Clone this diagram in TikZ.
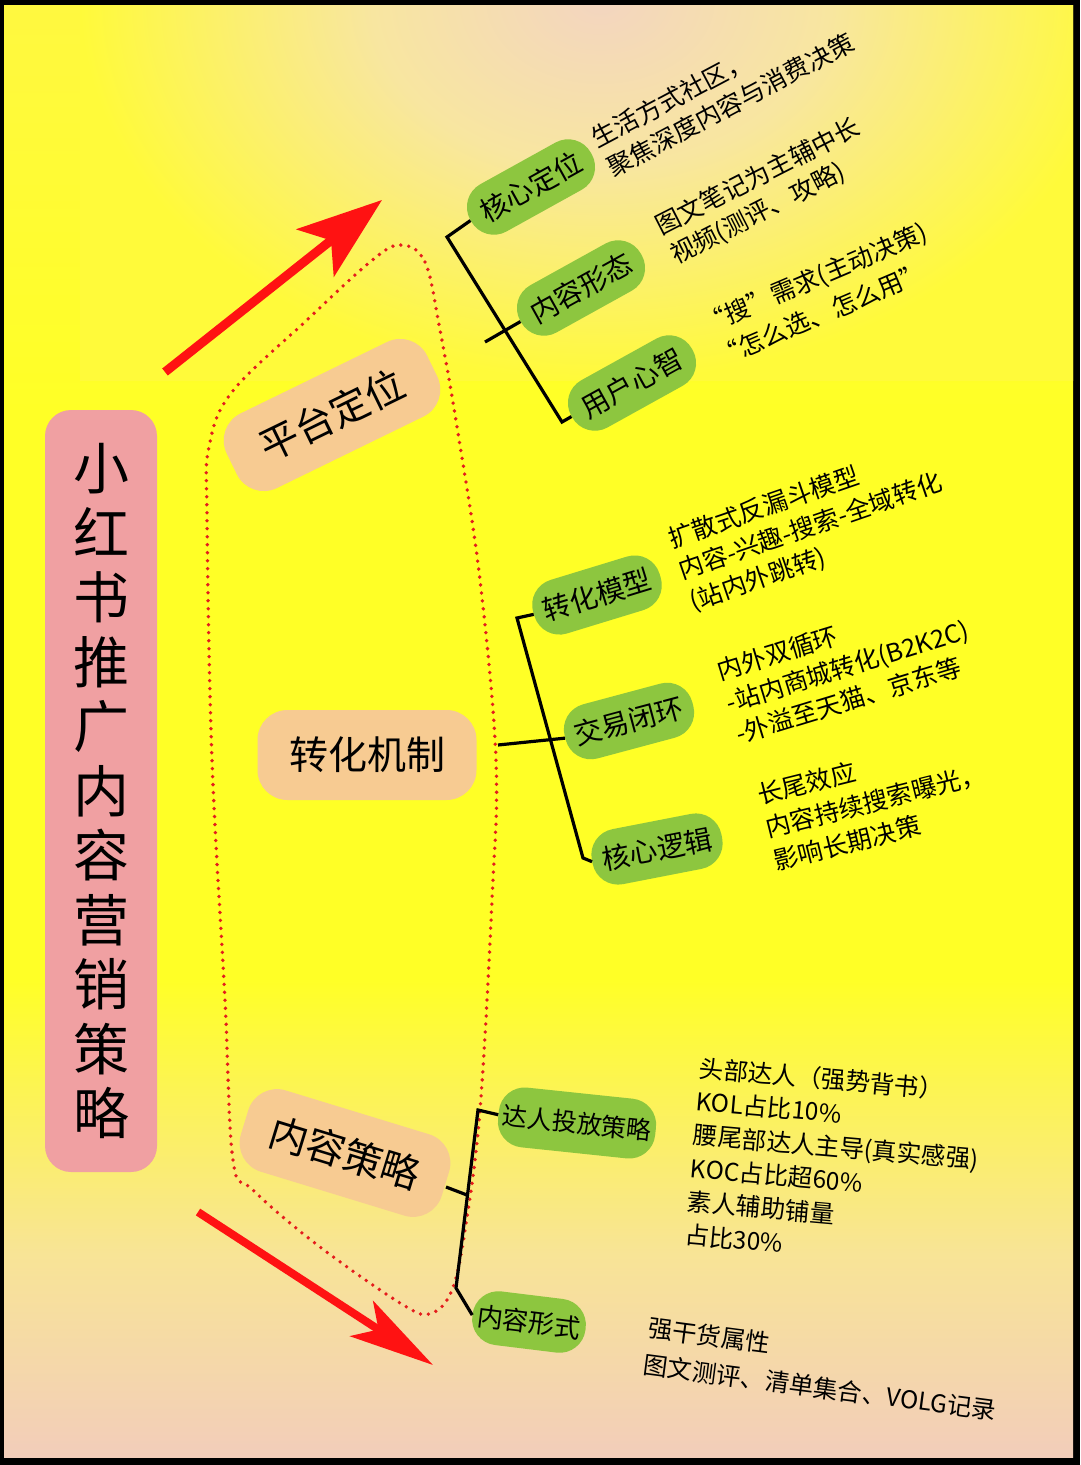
\documentclass[tikz,border=0pt]{standalone}
\usepackage{fontspec}
\setmainfont{Noto Sans CJK SC}
\usetikzlibrary{arrows.meta,calc}
\definecolor{bgpeach}{RGB}{242,205,186}
\definecolor{bgmid}{RGB}{248,228,150}
\definecolor{bgyel}{RGB}{255,255,38}
\definecolor{bgtop}{RGB}{255,248,64}
\definecolor{blobin}{RGB}{243,213,192}
\definecolor{blobmid}{RGB}{248,230,160}
\definecolor{blobout}{RGB}{255,250,58}
\definecolor{titlepink}{RGB}{240,160,162}
\definecolor{orng}{RGB}{247,203,146}
\definecolor{pillgreen}{RGB}{141,198,63}
\definecolor{arrred}{RGB}{255,18,18}
\definecolor{dotred}{RGB}{228,28,28}
\pgfdeclareverticalshading{bgv}{100bp}{color(0bp)=(bgpeach); color(25bp)=(bgpeach); color(32bp)=(bgmid); color(41.5bp)=(bgyel); color(61bp)=(bgyel); color(75bp)=(bgtop); color(100bp)=(bgtop)}
\pgfdeclareradialshading{blob}{\pgfpoint{0bp}{0bp}}{color(0bp)=(blobin); color(11bp)=(blobmid); color(25bp)=(blobout); color(50bp)=(blobout)}
\begin{document}
\begin{tikzpicture}[x=1pt,y=-1pt,
  titlebox/.style={fill=titlepink, rounded corners=26pt, minimum width=112pt, minimum height=762pt, inner sep=0pt, align=center, font=\fontsize{56}{64.5}\selectfont},
  obox/.style={fill=orng, rounded corners=30pt, inner sep=0pt, font=\fontsize{39}{39}\selectfont},
  pill/.style={fill=pillgreen, rounded corners=26pt, minimum width=138pt, minimum height=54pt, inner sep=0pt, font=\fontsize{28}{28}\selectfont},
  desc/.style={anchor=west, align=left, inner sep=0pt, font=\fontsize{25}{33}\selectfont},
  brk/.style={line width=3.2pt, black},
  redarrow/.style={draw=arrred, line width=9pt},
  dotline/.style={draw=dotred, line width=3.8pt, line cap=round, dash pattern=on 0pt off 8pt}
]
\useasboundingbox (0,0) rectangle (1080,1465);
\fill[black] (0,0) rectangle (1080,1465);
\shade[shading=bgv] (4,5) rectangle (1073,1457);
\begin{scope}
  \clip (4,5) rectangle (1073,1457);
  \shade[shading=blob] (80,-380) rectangle (1120,380);
\end{scope}

% dotted enclosure
\draw[dotline] plot[smooth cycle, tension=0.6] coordinates {
 (400,245) (425,262) (440,330) (458,433) (480,580) (496,760) (492,900)
 (480,1110) (465,1230) (452,1290) (432,1313) (405,1306) (320,1247)
 (253,1190) (233,1160) (225,1000) (212,760) (207,517) (209,447)
 (232,392) (307,320) (370,262)};

% red arrows
\coordinate (a1s) at (165,372);
\coordinate (a1e) at (382,200);
\coordinate (a2s) at (198,1212);
\coordinate (a2e) at (433,1365);
\draw[redarrow, -{Stealth[length=85pt,width=60pt,inset=20pt]}] (a1s) -- (a1e);
\draw[redarrow, line width=8pt, -{Stealth[length=85pt,width=42pt,inset=20pt]}] (a2s) -- (a2e);

% title
\node[titlebox] (title) at (101,791) {小\\红\\书\\推\\广\\内\\容\\营\\销\\策\\略};

% main categories
\node[obox, minimum width=223pt, minimum height=83pt, rotate=26] (ptdw) at (332,415) {平台定位};
\node[obox, minimum width=219pt, minimum height=90pt] (zhjz) at (367,755) {转化机制};
\node[obox, minimum width=210pt, minimum height=85pt, rotate=-17] (nrcl) at (345,1153) {内容策略};

% green sub items
\node[pill, rotate=29] (hxdw) at (531,187) {核心定位};
\node[pill, rotate=29] (nrxt) at (581,288) {内容形态};
\node[pill, rotate=29] (yhxz) at (632,383) {用户心智};
\node[pill, minimum width=132pt, minimum height=56pt, rotate=17] (zhmx) at (597,595) {转化模型};
\node[pill, minimum width=132pt, minimum height=56pt, rotate=15] (jybh) at (629,721) {交易闭环};
\node[pill, minimum width=132pt, minimum height=56pt, rotate=11] (hxlj) at (657,849) {核心逻辑};
\node[pill, minimum width=158pt, minimum height=60pt, rotate=-6, font=\fontsize{25}{25}\selectfont] (drtf) at (577,1123) {达人投放策略};
\node[pill, minimum width=114pt, minimum height=54pt, rotate=-7, font=\fontsize{26}{26}\selectfont] (nrxs) at (529,1322) {内容形式};

% brackets
\coordinate (c1a) at (447,237);
\coordinate (c1b) at (562,422);
\coordinate (c1s) at (485,342);
\draw[brk] (hxdw.west) -- (c1a) -- (c1b) -- (yhxz.west);
\draw[brk] (c1s) -- (nrxt.west);

\coordinate (c2a) at (517,618);
\coordinate (c2b) at (583,858);
\coordinate (c2s) at (498,745);
\draw[brk] (zhmx.west) -- (c2a) -- (c2b) -- (hxlj.west);
\draw[brk] (c2s) -- (jybh.west);

\coordinate (c3a) at (478,1110);
\coordinate (c3b) at (456,1288);
\coordinate (c3s) at (446,1187);
\coordinate (c3t) at (467,1195);
\draw[brk] (drtf.west) -- (c3a) -- (c3b) -- (nrxs.west);
\draw[brk] (c3s) -- (c3t);

% descriptions
\node[desc, rotate=28] (d1) at (601,155) {生活方式社区，\\聚焦深度内容与消费决策};
\node[desc, rotate=27] (d2) at (665,243) {图文笔记为主辅中长\\视频(测评、攻略)};
\node[desc, rotate=23, font=\fontsize{25}{36}\selectfont] (d3) at (710,342) {“搜”需求(主动决策)\\“怎么选、怎么用”};
\node[desc, rotate=19] (d4) at (680,572) {扩散式反漏斗模型\\内容-兴趣-搜索-全域转化\\(站内外跳转)};
\node[desc, rotate=17] (d5) at (727,703) {内外双循环\\-站内商城转化(B2K2C)\\-外溢至天猫、京东等};
\node[desc, rotate=14, font=\fontsize{25}{34}\selectfont] (d6) at (766,828) {长尾效应\\内容持续搜索曝光，\\影响长期决策};
\node[desc, rotate=-5, font=\fontsize{24.5}{33.5}\selectfont] (d7) at (692,1151) {头部达人（强势背书）\\KOL占比10\%\\腰尾部达人主导(真实感强)\\KOC占比超60\%\\素人辅助铺量\\占比30\%};
\node[desc, rotate=-7.5, font=\fontsize{24.5}{37}\selectfont] (d8) at (646,1346) {强干货属性\\图文测评、清单集合、VOLG记录};
\end{tikzpicture}
\end{document}
